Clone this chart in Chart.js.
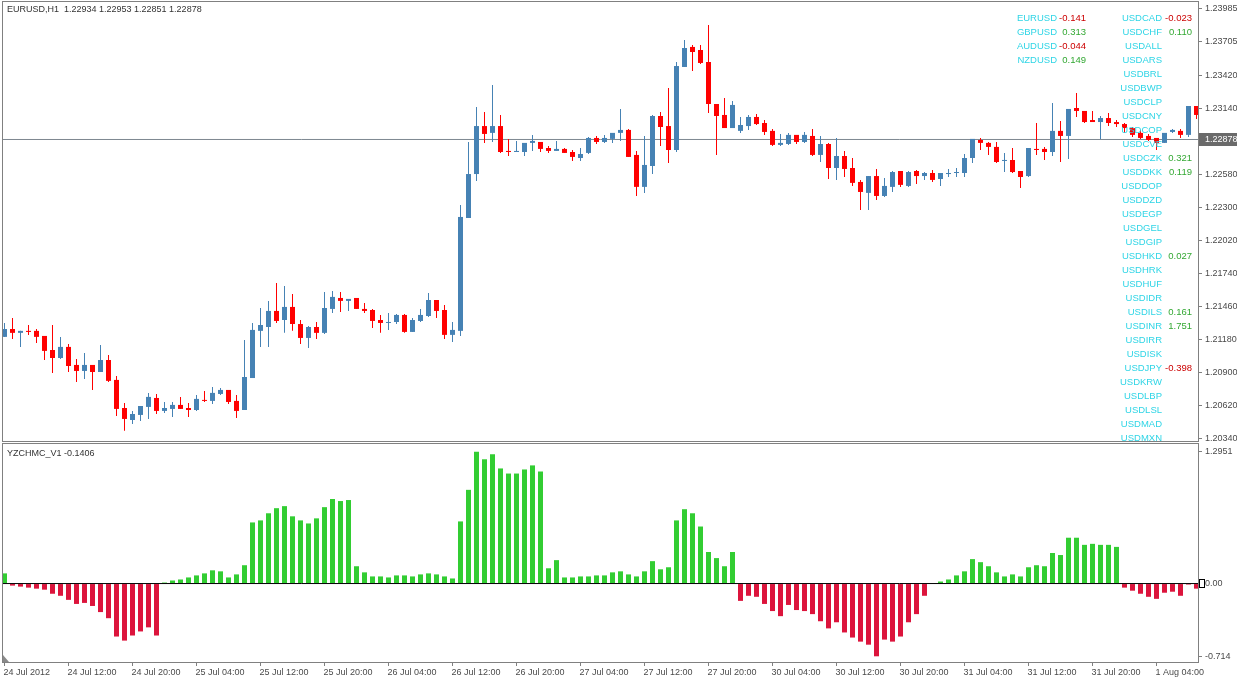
<!DOCTYPE html>
<html>
<head>
<meta charset="utf-8">
<script src="https://cdn.jsdelivr.net/npm/chart.js@4.4.0/dist/chart.umd.min.js"></script>
<style>
  html, body { margin: 0; padding: 0; background: #fff; overflow: hidden; }
  #wrap { position: relative; width: 1237px; height: 681px; }
  #priceChart { position: absolute; left: 0; top: 0; }
  #indChart { position: absolute; left: 0; top: 442px; }
</style>
</head>
<body>
<div id="wrap">
  <canvas id="priceChart" width="1237" height="442"></canvas>
  <canvas id="indChart" width="1237" height="239"></canvas>
</div>
<script>
// EURUSD H1 candles, one value per bar (bar 0 = 24 Jul 04:00)
const openP = [1.21204,1.21271,1.21238,1.21255,1.21255,1.21212,1.21093,1.21025,1.21119,1.20966,
  1.20915,1.20966,1.20906,1.21008,1.20839,1.20601,1.20499,1.20542,1.20610,1.20686,
  1.20576,1.20593,1.20627,1.20601,1.20584,1.20669,1.20661,1.20720,1.20754,1.20661,
  1.20584,1.20855,1.21255,1.21288,1.21424,1.21347,1.21458,1.21313,1.21195,1.21288,
  1.21238,1.21441,1.21534,1.21509,1.21534,1.21441,1.21432,1.21347,1.21322,1.21330,
  1.21390,1.21246,1.21339,1.21381,1.21517,1.21432,1.21221,1.21255,1.22212,1.22585,
  1.22992,1.22934,1.22992,1.22781,1.22772,1.22772,1.22849,1.22857,1.22806,1.22781,
  1.22798,1.22772,1.22721,1.22764,1.22891,1.22857,1.22883,1.22934,1.22959,1.22747,
  1.22476,1.22653,1.23077,1.22992,1.22789,1.23493,1.23663,1.23637,1.23535,1.23179,
  1.23086,1.22975,1.22951,1.22992,1.23069,1.23018,1.22951,1.22832,1.22840,1.22917,
  1.22857,1.22908,1.22747,1.22840,1.22636,1.22738,1.22636,1.22518,1.22425,1.22568,
  1.22399,1.22476,1.22611,1.22484,1.22611,1.22568,1.22594,1.22543,1.22585,1.22594,
  1.22594,1.22721,1.22874,1.22849,1.22815,1.22696,1.22704,1.22611,1.22568,1.22798,
  1.22798,1.22772,1.22951,1.22908,1.23145,1.23120,1.23043,1.23026,1.23060,1.23026,
  1.23009,1.22975,1.22934,1.22908,1.22891,1.22849,1.22942,1.22951,1.22917,1.23162];
const highP = [1.21322,1.21364,1.21255,1.21305,1.21271,1.21212,1.21305,1.21204,1.21144,1.21017,
  1.21068,1.20966,1.21136,1.21051,1.20872,1.20644,1.20576,1.20618,1.20729,1.20720,
  1.20652,1.20652,1.20695,1.20644,1.20712,1.20746,1.20780,1.20771,1.20754,1.20712,
  1.21178,1.21322,1.21449,1.21509,1.21662,1.21636,1.21568,1.21347,1.21296,1.21330,
  1.21585,1.21594,1.21585,1.21526,1.21534,1.21492,1.21441,1.21390,1.21407,1.21398,
  1.21398,1.21364,1.21441,1.21577,1.21517,1.21475,1.21330,1.22323,1.22857,1.23154,
  1.23111,1.23341,1.23086,1.22883,1.22866,1.22849,1.22917,1.22857,1.22823,1.22866,
  1.22806,1.22789,1.22806,1.22900,1.22908,1.22917,1.22934,1.23137,1.22967,1.22781,
  1.22908,1.23086,1.23111,1.23315,1.23535,1.23722,1.23680,1.23680,1.23849,1.23179,
  1.23230,1.23205,1.23069,1.23086,1.23094,1.23043,1.22967,1.22925,1.22934,1.22917,
  1.22942,1.22967,1.22908,1.22849,1.22891,1.22781,1.22721,1.22535,1.22568,1.22628,
  1.22551,1.22611,1.22611,1.22611,1.22619,1.22602,1.22619,1.22594,1.22628,1.22636,
  1.22755,1.22883,1.22891,1.22857,1.22857,1.22764,1.22806,1.22611,1.22806,1.23018,
  1.22815,1.23188,1.23035,1.23137,1.23273,1.23120,1.23120,1.23077,1.23103,1.23043,
  1.23018,1.22984,1.22959,1.22925,1.22891,1.22934,1.22967,1.22967,1.23162,1.23162];
const lowP = [1.21204,1.21187,1.21119,1.21221,1.21153,1.21008,1.20898,1.21017,1.20906,1.20822,
  1.20847,1.20754,1.20906,1.20822,1.20533,1.20407,1.20465,1.20491,1.20508,1.20550,
  1.20559,1.20525,1.20593,1.20525,1.20576,1.20652,1.20635,1.20712,1.20635,1.20516,
  1.20584,1.20855,1.21119,1.21119,1.21322,1.21238,1.21255,1.21144,1.21110,1.21187,
  1.21229,1.21407,1.21415,1.21424,1.21441,1.21407,1.21279,1.21238,1.21263,1.21313,
  1.21238,1.21246,1.21330,1.21373,1.21364,1.21187,1.21161,1.21212,1.22212,1.22527,
  1.22849,1.22857,1.22764,1.22738,1.22772,1.22738,1.22781,1.22772,1.22764,1.22781,
  1.22764,1.22696,1.22696,1.22755,1.22840,1.22849,1.22849,1.22866,1.22730,1.22399,
  1.22425,1.22585,1.22823,1.22679,1.22772,1.23493,1.23459,1.23518,1.23103,1.22747,
  1.22975,1.22975,1.22934,1.22959,1.23001,1.22917,1.22823,1.22823,1.22832,1.22840,
  1.22849,1.22738,1.22687,1.22543,1.22535,1.22560,1.22484,1.22280,1.22280,1.22365,
  1.22391,1.22433,1.22476,1.22476,1.22501,1.22535,1.22518,1.22484,1.22560,1.22560,
  1.22560,1.22679,1.22789,1.22747,1.22679,1.22602,1.22594,1.22467,1.22560,1.22747,
  1.22704,1.22738,1.22687,1.22713,1.23069,1.23018,1.23026,1.22883,1.22992,1.22984,
  1.22934,1.22900,1.22883,1.22866,1.22789,1.22849,1.22934,1.22891,1.22900,1.23052];
const closeP = [1.21271,1.21238,1.21255,1.21246,1.21204,1.21085,1.21025,1.21119,1.20957,1.20915,
  1.20966,1.20906,1.21008,1.20831,1.20593,1.20508,1.20550,1.20618,1.20695,1.20576,
  1.20601,1.20627,1.20593,1.20584,1.20678,1.20661,1.20729,1.20754,1.20652,1.20576,
  1.20864,1.21263,1.21305,1.21424,1.21339,1.21458,1.21313,1.21195,1.21288,1.21238,
  1.21449,1.21543,1.21509,1.21526,1.21441,1.21424,1.21339,1.21322,1.21330,1.21390,
  1.21246,1.21347,1.21390,1.21517,1.21424,1.21221,1.21263,1.22221,1.22585,1.22992,
  1.22925,1.22992,1.22772,1.22772,1.22781,1.22849,1.22866,1.22798,1.22781,1.22798,
  1.22764,1.22730,1.22755,1.22891,1.22857,1.22891,1.22934,1.22959,1.22730,1.22476,
  1.22662,1.23077,1.22984,1.22789,1.23501,1.23654,1.23620,1.23527,1.23179,1.23077,
  1.22975,1.23171,1.23001,1.23069,1.23009,1.22942,1.22832,1.22849,1.22917,1.22857,
  1.22917,1.22747,1.22840,1.22636,1.22738,1.22628,1.22510,1.22433,1.22568,1.22399,
  1.22484,1.22602,1.22493,1.22602,1.22568,1.22594,1.22535,1.22594,1.22594,1.22602,
  1.22721,1.22883,1.22849,1.22815,1.22687,1.22704,1.22602,1.22560,1.22806,1.22789,
  1.22772,1.22951,1.22908,1.23137,1.23120,1.23026,1.23026,1.23060,1.23018,1.23009,
  1.22975,1.22917,1.22891,1.22874,1.22849,1.22934,1.22959,1.22917,1.23162,1.23086];

// YZCHMC_V1 histogram
const histVals = [0.10,-0.02,-0.03,-0.04,-0.05,-0.06,-0.10,-0.12,-0.16,-0.20,
  -0.19,-0.22,-0.28,-0.34,-0.52,-0.56,-0.51,-0.47,-0.43,-0.51,
  0.01,0.03,0.04,0.06,0.08,0.10,0.13,0.12,0.06,0.09,
  0.18,0.60,0.62,0.69,0.74,0.76,0.66,0.62,0.59,0.64,
  0.75,0.83,0.81,0.82,0.17,0.11,0.07,0.07,0.06,0.08,
  0.08,0.07,0.09,0.10,0.09,0.07,0.05,0.61,0.92,1.2951,
  1.22,1.27,1.13,1.08,1.08,1.12,1.16,1.10,0.15,0.23,
  0.06,0.06,0.07,0.07,0.08,0.08,0.11,0.12,0.09,0.07,
  0.12,0.22,0.14,0.16,0.62,0.73,0.69,0.56,0.31,0.25,
  0.17,0.31,-0.17,-0.12,-0.13,-0.20,-0.27,-0.32,-0.21,-0.26,
  -0.27,-0.30,-0.37,-0.44,-0.38,-0.48,-0.53,-0.57,-0.60,-0.714,
  -0.55,-0.57,-0.52,-0.38,-0.30,-0.12,0,0.02,0.04,0.08,
  0.12,0.24,0.21,0.17,0.11,0.07,0.09,0.07,0.16,0.18,
  0.17,0.30,0.28,0.45,0.45,0.38,0.39,0.38,0.38,0.36,
  -0.04,-0.07,-0.10,-0.13,-0.15,-0.09,-0.08,-0.12,-0.01,-0.05];

// axis labels
const priceTicks = [1.23985,1.23705,1.23420,1.23140,1.22580,1.22300,1.22020,1.21740,1.21460,1.21180,1.20900,1.20620,1.20340];
const indTicks = [1.2951, 0, -0.714];
const indTickLabels = ['1.2951', '0.00', '-0.714'];
const timeTickIdx = [0,8,16,24,32,40,48,56,64,72,80,88,96,104,112,120,128,136,144];
const timeLabels = ['24 Jul 2012','24 Jul 12:00','24 Jul 20:00','25 Jul 04:00','25 Jul 12:00','25 Jul 20:00',
  '26 Jul 04:00','26 Jul 12:00','26 Jul 20:00','27 Jul 04:00','27 Jul 12:00','27 Jul 20:00',
  '30 Jul 04:00','30 Jul 12:00','30 Jul 20:00','31 Jul 04:00','31 Jul 12:00','31 Jul 20:00','1 Aug 04:00'];

const bidPrice = 1.22878;
const titleText = 'EURUSD,H1  1.22934 1.22953 1.22851 1.22878';
const indTitle = 'YZCHMC_V1 -0.1406';

// strength table drawn in the corner
const leftPairs = ['EURUSD','GBPUSD','AUDUSD','NZDUSD'];
const leftVals = ['-0.141','0.313','-0.044','0.149'];
const rightPairs = ['USDCAD','USDCHF','USDALL','USDARS','USDBRL','USDBWP','USDCLP','USDCNY','USDCOP','USDCVE',
  'USDCZK','USDDKK','USDDOP','USDDZD','USDEGP','USDGEL','USDGIP','USDHKD','USDHRK','USDHUF',
  'USDIDR','USDILS','USDINR','USDIRR','USDISK','USDJPY','USDKRW','USDLBP','USDLSL','USDMAD','USDMXN'];
const rightVals = ['-0.023','0.110','','','','','','','','',
  '0.321','0.119','','','','','','0.027','','',
  '','0.161','1.751','','','-0.398','','','','',''];

const UP = '#4682B4', DOWN = '#FF0000';
const HIST_UP = '#32CD32', HIST_DOWN = '#DC143C';
const AXIS = '#808080', TXT = '#4a4a4a';
const FONT = "'Liberation Sans', Arial, sans-serif";
const X_MIN = -0.1875, X_MAX = 149.1875;

const idx = openP.map((_, i) => i);
const candleCol = idx.map(i => closeP[i] > openP[i] ? UP : DOWN);

// gray box round each panel
function panelFrame(id) {
  return {
    id: id,
    afterDraw(chart) {
      const a = chart.chartArea, c = chart.ctx;
      c.save();
      c.strokeStyle = AXIS;
      c.lineWidth = 1;
      c.strokeRect(a.left - 0.5, a.top - 0.5, a.right - a.left + 1, a.bottom - a.top + 1);
      c.restore();
    }
  };
}

const priceText = {
  id: 'priceText',
  afterDraw(chart) {
    const c = chart.ctx, a = chart.chartArea;
    c.save();
    c.textBaseline = 'middle';
    c.font = '9px ' + FONT;
    c.fillStyle = '#333';
    c.textAlign = 'left';
    c.fillText(titleText, 7, 10);

    // current price box on the axis
    const by = chart.scales.y.getPixelForValue(bidPrice);
    c.fillStyle = '#6a6a6a';
    c.fillRect(a.right + 1, Math.round(by) - 6, 39, 13);
    c.fillStyle = '#fff';
    c.fillText(bidPrice.toFixed(5), a.right + 7, Math.round(by) + 0.5);

    c.font = '9.5px ' + FONT;
    leftPairs.forEach((p, k) => {
      const y = 18 + 14 * k;
      c.textAlign = 'right';
      c.fillStyle = '#2fd5e6';
      c.fillText(p, 1057, y);
      c.fillStyle = leftVals[k].startsWith('-') ? '#cc0000' : '#33a833';
      c.fillText(leftVals[k], 1086, y);
    });
    rightPairs.forEach((p, k) => {
      const y = 18 + 14 * k;
      c.textAlign = 'right';
      c.fillStyle = '#2fd5e6';
      c.fillText(p, 1162, y);
      if (rightVals[k]) {
        c.fillStyle = rightVals[k].startsWith('-') ? '#cc0000' : '#33a833';
        c.fillText(rightVals[k], 1192, y);
      }
    });
    c.restore();
  }
};

const indText = {
  id: 'indText',
  afterDraw(chart) {
    const c = chart.ctx, a = chart.chartArea;
    c.save();
    c.font = '9px ' + FONT;
    c.fillStyle = '#333';
    c.textBaseline = 'middle';
    c.fillText(indTitle, 7, 12);
    const zy = Math.round(chart.scales.y.getPixelForValue(0));
    c.fillStyle = '#fff';
    c.fillRect(a.right + 1.5, zy - 4.5, 5, 8);
    c.strokeStyle = '#000';
    c.lineWidth = 1;
    c.strokeRect(a.right + 1.5, zy - 4.5, 5, 8);
    // small shift marker in the lower left corner
    c.fillStyle = '#8a8a8a';
    c.beginPath();
    c.moveTo(a.left, a.bottom - 7);
    c.lineTo(a.left, a.bottom);
    c.lineTo(a.left + 6, a.bottom);
    c.closePath();
    c.fill();
    c.restore();
  }
};

new Chart(document.getElementById('priceChart'), {
  type: 'bar',
  data: {
    datasets: [
      {
        label: 'body',
        data: idx.map(i => ({ x: i, y: [openP[i], closeP[i]] })),
        backgroundColor: candleCol,
        barThickness: 5,
        minBarLength: 1,
        grouped: false,
        inflateAmount: 0,
        order: 0
      },
      {
        label: 'wick',
        data: idx.map(i => ({ x: i, y: [lowP[i], highP[i]] })),
        backgroundColor: candleCol,
        barThickness: 1,
        minBarLength: 1,
        grouped: false,
        inflateAmount: 0,
        order: 1
      },
      {
        type: 'line',
        label: 'bid',
        data: [{ x: X_MIN, y: bidPrice }, { x: X_MAX, y: bidPrice }],
        borderColor: '#7d8790',
        borderWidth: 1,
        pointRadius: 0,
        order: 2
      }
    ]
  },
  options: {
    responsive: false,
    animation: false,
    layout: { padding: { left: 3, top: 2, right: 0, bottom: 1 } },
    plugins: { legend: { display: false }, tooltip: { enabled: false } },
    scales: {
      x: { type: 'linear', min: X_MIN, max: X_MAX, offset: false, display: false },
      y: {
        position: 'right',
        min: 1.20321,
        max: 1.24044,
        afterBuildTicks: s => { s.ticks = priceTicks.map(v => ({ value: v })); },
        afterFit: s => { s.width = 39; s.paddingTop = 0; s.paddingBottom = 0; },
        ticks: {
          callback: v => v.toFixed(5),
          font: { family: FONT, size: 9 },
          color: TXT,
          padding: 3,
          autoSkip: false
        },
        grid: { drawOnChartArea: false, color: AXIS, tickLength: 4 },
        border: { color: AXIS }
      }
    }
  },
  plugins: [panelFrame('frameMain'), priceText]
});

new Chart(document.getElementById('indChart'), {
  type: 'bar',
  data: {
    datasets: [
      {
        label: 'YZCHMC_V1',
        data: idx.map(i => ({ x: i, y: histVals[i] })),
        backgroundColor: histVals.map(v => v >= 0 ? HIST_UP : HIST_DOWN),
        barThickness: 5,
        inflateAmount: 0,
        order: 1
      },
      {
        type: 'line',
        label: 'zero',
        data: [{ x: X_MIN, y: 0 }, { x: X_MAX, y: 0 }],
        borderColor: '#000',
        borderWidth: 1,
        pointRadius: 0,
        order: 0
      }
    ]
  },
  options: {
    responsive: false,
    animation: false,
    layout: { padding: { left: 3, top: 2, right: 0, bottom: 0 } },
    plugins: { legend: { display: false }, tooltip: { enabled: false } },
    scales: {
      x: {
        type: 'linear',
        min: X_MIN,
        max: X_MAX,
        offset: false,
        afterBuildTicks: s => { s.ticks = timeTickIdx.map(v => ({ value: v })); },
        afterFit: s => { s.height = 19; s.paddingLeft = 0; s.paddingRight = 0; },
        ticks: {
          callback: (v, k) => timeLabels[k],
          align: 'start',
          labelOffset: -1,
          maxRotation: 0,
          minRotation: 0,
          autoSkip: false,
          padding: 1,
          font: { family: FONT, size: 9 },
          color: TXT
        },
        grid: { drawOnChartArea: false, offset: false, color: AXIS, tickLength: 4 },
        border: { color: AXIS }
      },
      y: {
        position: 'right',
        min: -0.77,
        max: 1.37,
        afterBuildTicks: s => { s.ticks = indTicks.map(v => ({ value: v })); },
        afterFit: s => { s.width = 39; s.paddingTop = 0; s.paddingBottom = 0; },
        ticks: {
          callback: (v, k) => indTickLabels[k],
          font: { family: FONT, size: 9 },
          color: TXT,
          padding: 3,
          autoSkip: false
        },
        grid: { drawOnChartArea: false, color: AXIS, tickLength: 4 },
        border: { color: AXIS }
      }
    }
  },
  plugins: [panelFrame('frameInd'), indText]
});
</script>
</body>
</html>
